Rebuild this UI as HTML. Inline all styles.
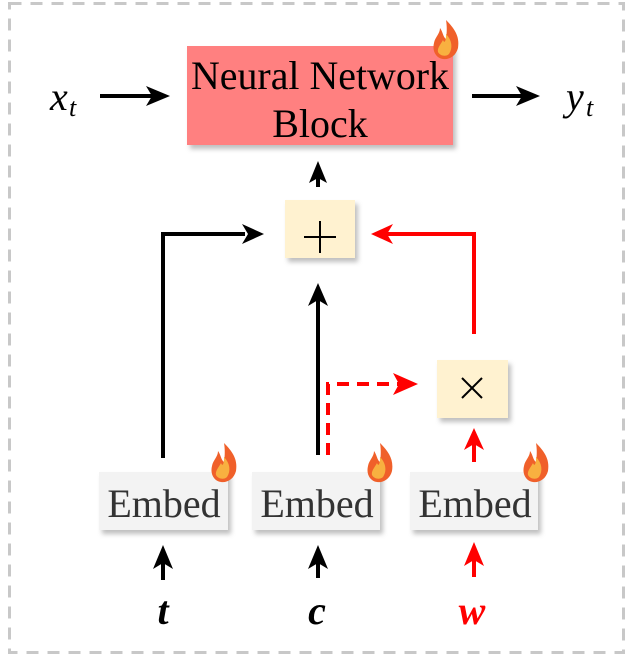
<!DOCTYPE html><html><head><style>body{margin:0;background:#fff}svg text{font-family:"Liberation Serif",serif}</style></head><body>
<svg width="632" height="661" viewBox="0 0 632 661" xmlns="http://www.w3.org/2000/svg">
<defs>
<filter id="sh" x="-20%" y="-20%" width="150%" height="160%"><feDropShadow dx="3" dy="4" stdDeviation="2.5" flood-color="#000" flood-opacity="0.25"/></filter>
<g id="flame"><path d="M12,0 C20,8 26,16 24,28 C22,36 15,40 9,39 C2,38 -2,31 0,23 C1,17 6,14 6,8 C9,12 9,17 12,19 C13,12 13,6 12,0Z" fill="#f0602a"/><path d="M12,14 C18,20 19,28 15,34 C12,37 6,36 4,32 C3,28 7,24 9,20 C10,23 12,23 12,14Z" fill="#f8b040"/></g>
</defs>
<rect x="9.5" y="3.5" width="614" height="649" fill="none" stroke="#c8c8c8" stroke-width="3" stroke-dasharray="12,9"/>
<rect x="187" y="46" width="266" height="99" fill="#ff8080" filter="url(#sh)"/>
<text x="320" y="89" font-size="40" text-anchor="middle" textLength="258" lengthAdjust="spacingAndGlyphs">Neural Network</text>
<text x="320" y="137" font-size="40" text-anchor="middle">Block</text>
<use href="#flame" x="434" y="20"/>
<text x="50" y="110" font-size="40" font-style="italic">x</text><text x="69" y="116" font-size="26" font-style="italic">t</text>
<text x="566" y="110" font-size="40" font-style="italic">y</text><text x="586" y="116" font-size="26" font-style="italic">t</text>
<g stroke="#000" stroke-width="4" fill="none">
<line x1="100" y1="96" x2="155" y2="96"/><line x1="472" y1="96" x2="525" y2="96"/>
<line x1="318" y1="187" x2="318" y2="175"/>
<polyline points="163,458 163,234 245,234"/>
<line x1="318" y1="455" x2="318" y2="298"/>
<line x1="163" y1="580" x2="163" y2="560"/><line x1="318" y1="578" x2="318" y2="560"/>
</g>
<g fill="#000">
<path d="M170,96 L146,86 L152,96 L146,106Z"/><path d="M540,96 L516,86 L522,96 L516,106Z"/>
<path d="M318,161 L309,183 L318,178 L327,183Z"/>
<path d="M264,234 L242,224 L248,234 L242,244Z"/>
<path d="M318,283 L308,306 L318,300 L328,306Z"/>
<path d="M163,545 L153,569 L163,563 L173,569Z"/><path d="M318,545 L308,569 L318,563 L328,569Z"/>
</g>
<g stroke="#f00" stroke-width="4" fill="none">
<polyline points="474,334 474,234 386,234"/>
<line x1="474" y1="462" x2="474" y2="440"/><line x1="474" y1="577" x2="474" y2="558"/>
<polyline points="328,455 328,384 400,384" stroke-dasharray="12,8"/>
</g>
<g fill="#f00">
<path d="M371,234 L393,224 L387,234 L393,244Z"/>
<path d="M474,428 L464,450 L474,444 L484,450Z"/><path d="M474,542 L464,566 L474,560 L484,566Z"/>
<path d="M418,384 L393,373 L399,384 L393,395Z"/>
</g>
<rect x="285" y="200" width="70" height="58" fill="#fff2d0" filter="url(#sh)"/>
<g stroke="#000" stroke-width="2"><line x1="304" y1="237" x2="336" y2="237"/><line x1="320" y1="221" x2="320" y2="253"/></g>
<rect x="437" y="360" width="71" height="58" fill="#fff2d0" filter="url(#sh)"/>
<g stroke="#000" stroke-width="2"><line x1="462" y1="378" x2="482" y2="398"/><line x1="482" y1="378" x2="462" y2="398"/></g>
<rect x="99" y="472" width="129" height="58" fill="#f3f3f3" filter="url(#sh)"/>
<rect x="252" y="472" width="128" height="58" fill="#f3f3f3" filter="url(#sh)"/>
<rect x="410" y="472" width="128" height="58" fill="#f3f3f3" filter="url(#sh)"/>
<g font-size="40" fill="#333" text-anchor="middle"><text x="164" y="517">Embed</text><text x="317" y="517">Embed</text><text x="475" y="517">Embed</text></g>
<use href="#flame" x="212" y="443"/><use href="#flame" x="368" y="443"/><use href="#flame" x="524" y="443"/>
<g font-size="40" font-style="italic" font-weight="bold" text-anchor="middle"><text x="163" y="624">t</text><text x="317" y="624">c</text><text x="472" y="624" fill="#f00">w</text></g>
</svg></body></html>
